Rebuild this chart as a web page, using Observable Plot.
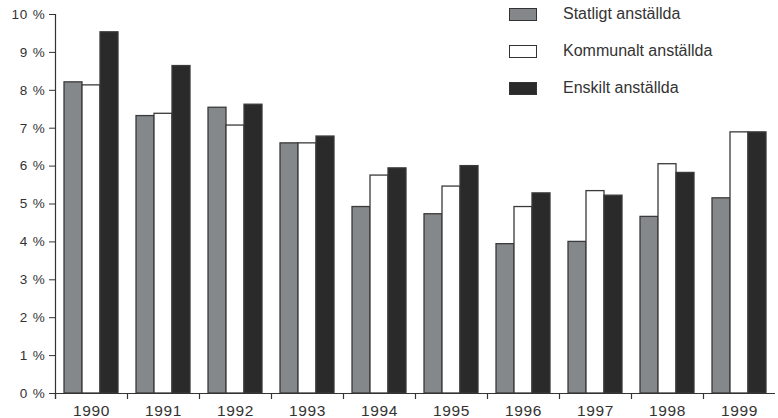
<!DOCTYPE html>
<html>
<head>
<meta charset="utf-8">
<script src="https://cdn.jsdelivr.net/npm/d3@7"></script>
<script src="https://cdn.jsdelivr.net/npm/@observablehq/plot@0.6"></script>
<style>
  html, body { margin: 0; padding: 0; background: #fff; }
  #wrap { position: relative; width: 778px; height: 418px; font-family: "Liberation Sans", Arial, sans-serif; color: #333; }
  #legend { position: absolute; left: 0; top: 0; }
  .item { position: absolute; left: 509px; width: 260px; height: 14px; }
  .sw { position: absolute; left: 0; top: 0; width: 26px; height: 11px; border: 1.3px solid #333; }
  .lab { position: absolute; left: 54px; top: -3px; font-size: 16px; line-height: 18px; white-space: nowrap; color: #333; }
  .chart [aria-label="fx-axis tick label"] text { letter-spacing: 0.6px; }
  .chart [aria-label="y-axis tick label"] text { letter-spacing: 0.8px; }
</style>
</head>
<body>
<div id="wrap"><div id="legend"></div></div>
<script>
const years = ["1990","1991","1992","1993","1994","1995","1996","1997","1998","1999"];
const series = ["Statligt anställda", "Kommunalt anställda", "Enskilt anställda"];
const statligt  = [8.21, 7.32, 7.54, 6.60, 4.92, 4.73, 3.94, 4.00, 4.66, 5.15];
const kommunalt = [8.13, 7.38, 7.07, 6.60, 5.75, 5.46, 4.92, 5.34, 6.05, 6.89];
const enskilt   = [9.53, 8.64, 7.62, 6.78, 5.94, 6.00, 5.28, 5.22, 5.82, 6.89];
const yTicks = [0, 1, 2, 3, 4, 5, 6, 7, 8, 9, 10];
const colors = ["#85888a", "#ffffff", "#2b2a2b"];

const values = [statligt, kommunalt, enskilt];
const data = [];
years.forEach((yr, i) => series.forEach((s, j) => data.push({year: yr, series: s, value: values[j][i]})));

const chart = Plot.plot({
  className: "chart",
  width: 778,
  height: 418,
  marginTop: 14,
  marginBottom: 25,
  marginLeft: 52,
  marginRight: 0,
  style: {fontFamily: "'Liberation Sans', Arial, sans-serif", color: "#333", background: "transparent"},
  fx: {domain: years, padding: 0, label: null},
  x: {domain: series, paddingInner: 0, paddingOuter: 0.48, axis: null},
  y: {domain: [0, 10], axis: null},
  color: {domain: series, range: colors},
  marks: [
    Plot.axisY({ticks: yTicks, tickFormat: d => `${d} %`, tickSize: 6, tickPadding: 4, label: null, fontSize: 13.5, stroke: "#333"}),
    Plot.axisFx({anchor: "bottom", tickSize: 0, tickPadding: 11, label: null, fontSize: 15.5}),
    Plot.barY(data, {fx: "year", x: "series", y: "value", fill: "series", stroke: "#3a3a3a", strokeWidth: 1.3}),
    Plot.ruleY([0], {stroke: "#333", strokeWidth: 1.2})
  ]
});

// axis line and group-boundary ticks drawn from the chart's own scales
const fx = chart.scale("fx");
const y = chart.scale("y");
const svg = d3.select(chart);
svg.append("line")
  .attr("x1", fx.apply(years[0]) + 0.5).attr("x2", fx.apply(years[0]) + 0.5)
  .attr("y1", y.apply(10)).attr("y2", y.apply(0) + 6)
  .attr("stroke", "#333").attr("stroke-width", 1.2);
svg.selectAll("line.bt").data(years).join("line").attr("class", "bt")
  .attr("x1", d => fx.apply(d) + 0.5).attr("x2", d => fx.apply(d) + 0.5)
  .attr("y1", y.apply(0)).attr("y2", y.apply(0) + 6)
  .attr("stroke", "#333").attr("stroke-width", 1.2);

const wrap = document.getElementById("wrap");
wrap.insertBefore(chart, wrap.firstChild);

const legend = document.getElementById("legend");
series.forEach((s, i) => {
  const item = document.createElement("div");
  item.className = "item";
  item.style.top = (7.5 + i * 37.3) + "px";
  const sw = document.createElement("div");
  sw.className = "sw";
  sw.style.background = colors[i];
  const lab = document.createElement("div");
  lab.className = "lab";
  lab.textContent = s;
  item.appendChild(sw);
  item.appendChild(lab);
  legend.appendChild(item);
});
</script>
</body>
</html>
